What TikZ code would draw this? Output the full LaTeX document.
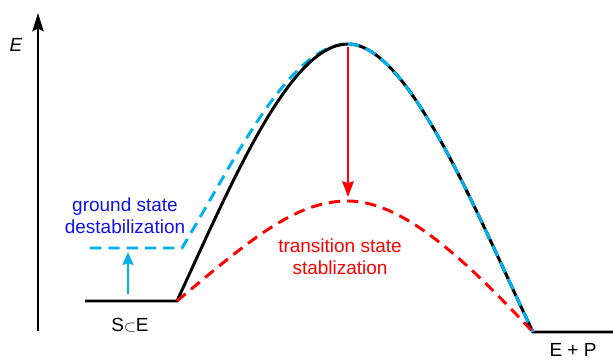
\documentclass[tikz,border=0pt]{standalone}
\usepackage{fontspec}
\setmainfont{Liberation Sans}
\usetikzlibrary{arrows.meta}
\definecolor{cyancol}{HTML}{00B0F0}
\definecolor{bluecol}{HTML}{1010F0}
\definecolor{redcol}{HTML}{FF0000}

\begin{document}
\begin{tikzpicture}[x=0.025cm,y=-0.025cm,
  curve/.style={line width=2.1pt},
  dashcurve/.style={line width=2.1pt,dash pattern=on 8pt off 5pt},
  lbl/.style={font=\fontsize{13.5}{15.5}\selectfont,align=center,inner sep=0pt}]
  \useasboundingbox (0,0) rectangle (613,360);
  % key points of the profile
  \coordinate (axisbot) at (38,331);
  \coordinate (axistop) at (38,13);
  \coordinate (seleft) at (85,301);
  \coordinate (seright) at (177,301);
  \coordinate (peak) at (348,44);
  \coordinate (tspeak) at (348,201);
  \coordinate (epleft) at (533,332);
  \coordinate (epright) at (613,332);
  \coordinate (gsleft) at (90,248);
  \coordinate (gsright) at (182,248);
  % axis
  \draw[line width=1.6pt,-{Stealth[length=13pt,width=8pt,inset=2pt]}] (axisbot) -- (axistop);
  \node[lbl,font=\fontsize{13.5}{15.5}\selectfont\itshape] (elbl) at (16,45) {E};
  % ground state (blue, dashed)
  \draw[dashcurve,cyancol] (gsleft) -- (gsright)
    .. controls (236,158) and (290,44) .. (peak)
    .. controls (410,44) and (480,222) .. (epleft);
  % reaction path
  \draw[curve] (seleft) -- (seright)
    .. controls (232,182) and (290,44) .. (peak)
    .. controls (410,44) and (480,222) .. (epleft) -- (epright);
  \draw[dashcurve,cyancol] (peak)
    .. controls (410,44) and (480,222) .. (epleft);
  % transition state (red, dashed)
  \draw[dashcurve,redcol] (seright)
    .. controls (250,240) and (295,201) .. (tspeak)
    .. controls (405,201) and (470,265) .. (epleft);
  % arrows
  \coordinate (bluebot) at (128,294);
  \coordinate (bluetop) at (128,252);
  \draw[line width=2pt,cyancol,-{Stealth[length=9pt,width=7.5pt,inset=1pt]}] (bluebot) -- (bluetop);
  \coordinate (redtop) at (348,47);
  \coordinate (redbot) at (348,197);
  \draw[line width=2pt,redcol,-{Stealth[length=11pt,width=8pt,inset=1pt]}] (redtop) -- (redbot);
  % labels
  \node[lbl,text=bluecol] (gslbl) at (125,216) {ground state\\destabilization};
  \node[lbl,text=redcol] (tslbl) at (340,257) {transition state\\stablization};
  \node[lbl] (selbl) at (130,325) {S{\fontsize{11}{12}\selectfont$\subset$}E};
  \node[lbl] (eplbl) at (573,350) {E + P};
\end{tikzpicture}
\end{document}
